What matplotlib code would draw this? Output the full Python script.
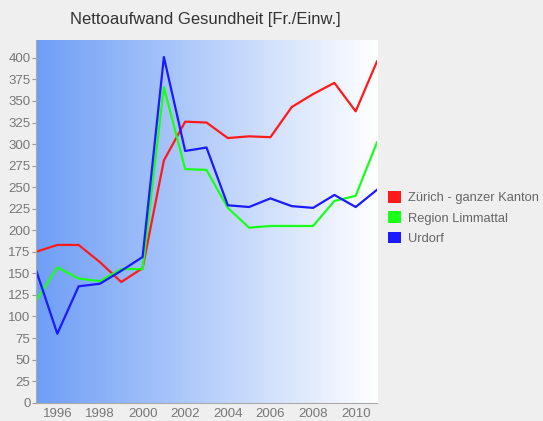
import numpy as np
import matplotlib
matplotlib.use('Agg')
from matplotlib import pyplot as plt
from matplotlib.colors import LinearSegmentedColormap
from matplotlib.patches import Patch

plt.rcParams['font.family'] = ['Liberation Sans', 'DejaVu Sans']

years = list(range(1995, 2012))
zuerich = [175, 183, 183, 163, 140, 156, 281, 326, 325, 307, 309, 308, 343, 358, 371, 338, 396]
limmattal = [118, 157, 144, 141, 155, 155, 366, 271, 270, 226, 203, 205, 205, 205, 234, 240, 302]
urdorf = [154, 80, 135, 138, 153, 169, 401, 292, 296, 229, 227, 237, 228, 226, 241, 227, 247]
series_names = ['Zürich - ganzer Kanton', 'Region Limmattal', 'Urdorf']
series_colors = ['#ff1a1a', '#1aff1a', '#1a1aff']

fig = plt.figure(figsize=(5.43, 4.21), dpi=100, facecolor='#efefef')
ax = fig.add_axes([0.0663, 0.0435, 0.628, 0.862])

# horizontal blue -> white gradient behind the lines
cmap = LinearSegmentedColormap.from_list('bg', ['#6e9ef6', '#ffffff'])
grad = np.linspace(0, 1, 256).reshape(1, -1)
ax.imshow(grad, aspect='auto', cmap=cmap, extent=[1995, 2011, 0, 421], zorder=0)

for vals, c in zip([zuerich, limmattal, urdorf], series_colors):
    ax.plot(years, vals, color=c, lw=1.6, zorder=2)

ax.set_xlim(1995, 2011)
ax.set_ylim(0, 421)
ax.set_yticks(range(0, 401, 25))
ax.set_xticks(range(1996, 2011, 2))
ax.tick_params(axis='y', colors='#999999', labelcolor='#777777', labelsize=9.5, length=3, pad=1)
ax.tick_params(axis='x', colors='#999999', labelcolor='#777777', labelsize=9.5, length=0, pad=4)
for s in ['top', 'right']:
    ax.spines[s].set_visible(False)
for s in ['left', 'bottom']:
    ax.spines[s].set_color('#aaaaaa')

fig.text(0.378, 0.953, 'Nettoaufwand Gesundheit [Fr./Einw.]', ha='center', va='center',
         fontsize=12, color='#333333')

handles = [Patch(facecolor=c, edgecolor='none') for c in series_colors]
fig.legend(handles, series_names, loc='center left', bbox_to_anchor=(0.694, 0.482),
           frameon=False, fontsize=9.3, handlelength=1.0, handleheight=1.0,
           handletextpad=0.55, labelspacing=0.55, labelcolor='#666666')

fig.savefig('out.png', dpi=100, facecolor=fig.get_facecolor())
